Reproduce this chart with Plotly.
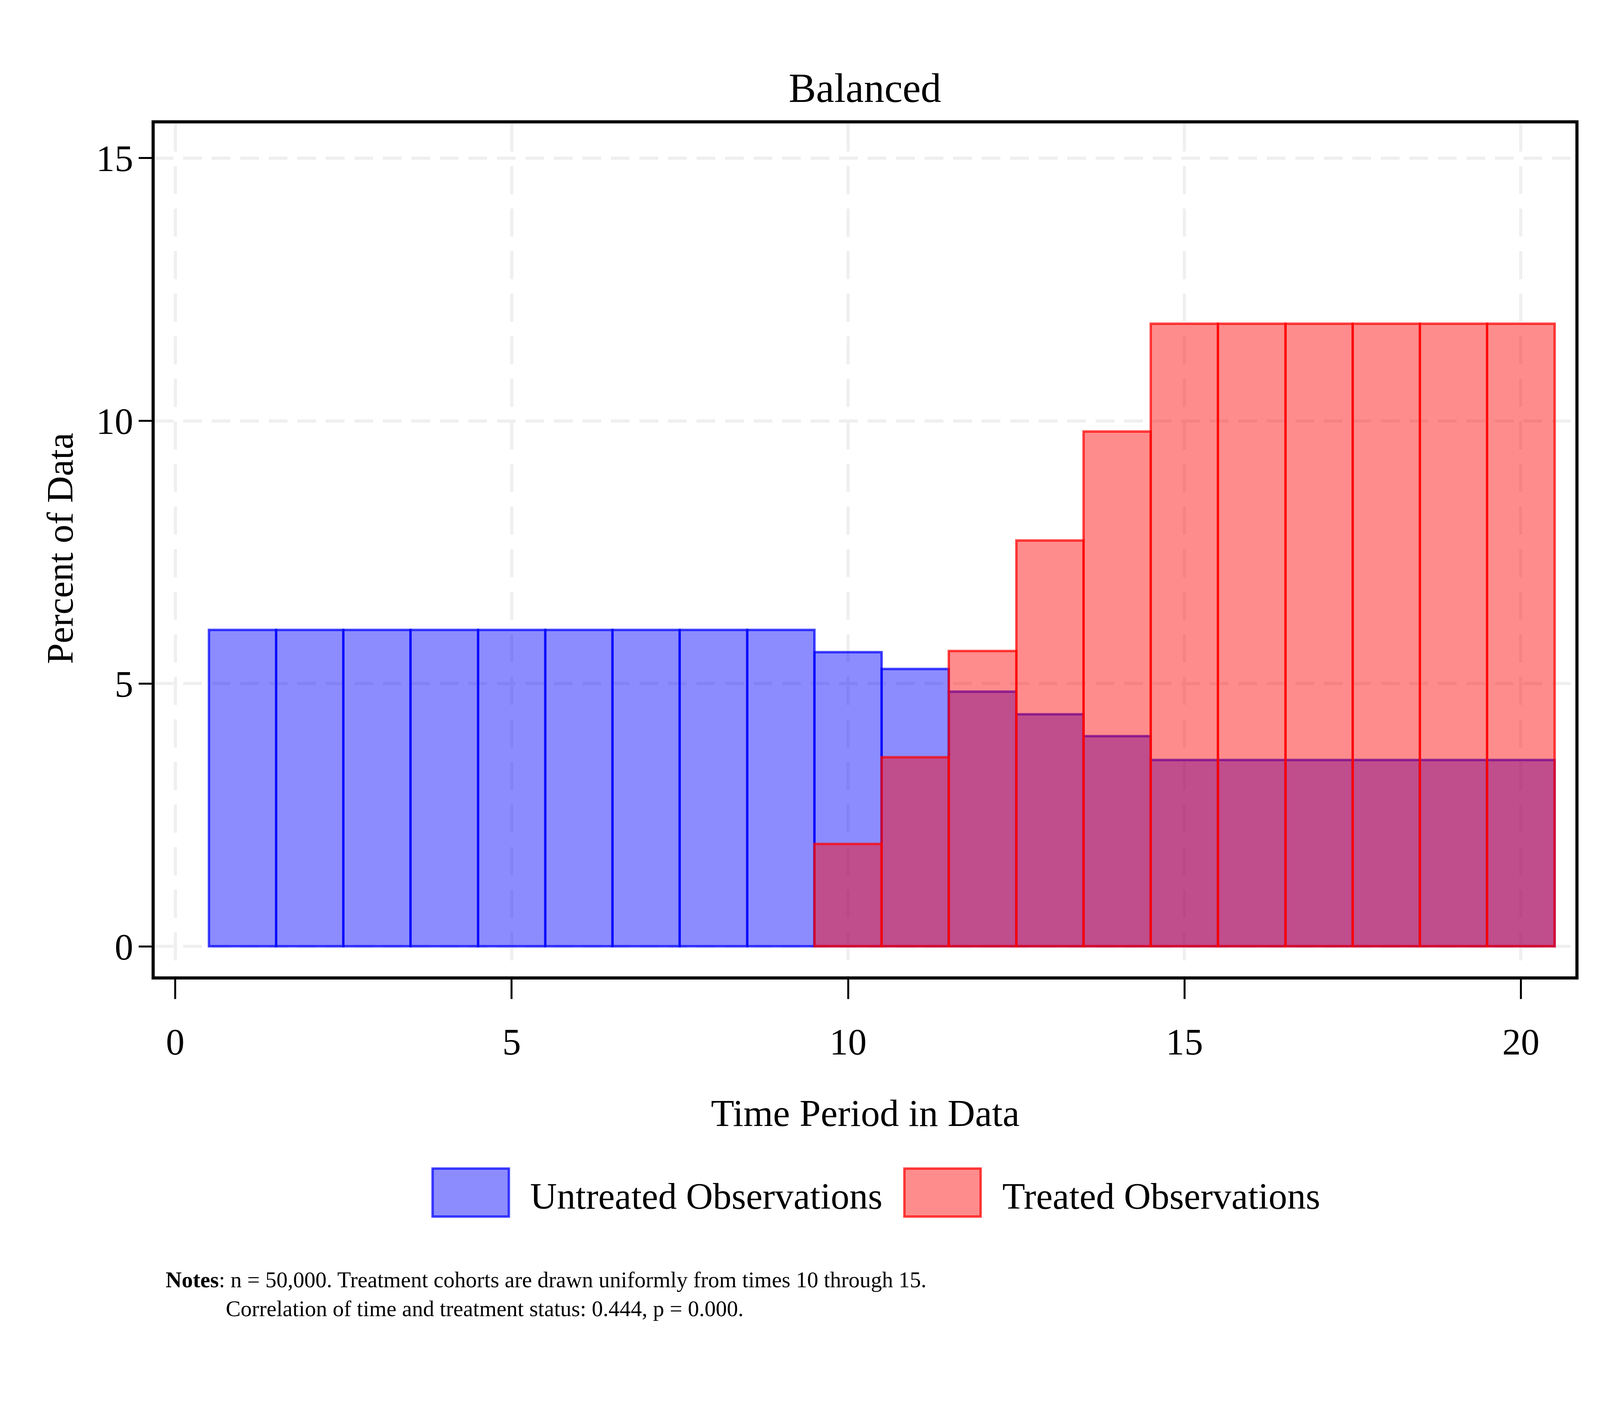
import plotly.graph_objects as go

# time periods and percent of data
periods = list(range(1, 21))
untreated = [6.02, 6.02, 6.02, 6.02, 6.02, 6.02, 6.02, 6.02, 6.02,
             5.6, 5.28, 4.85, 4.42, 4.0, 3.55, 3.55, 3.55, 3.55, 3.55, 3.55]
treated = [None, None, None, None, None, None, None, None, None,
           1.95, 3.6, 5.62, 7.72, 9.8, 11.85, 11.85, 11.85, 11.85, 11.85, 11.85]
series_names = ["Untreated Observations", "Treated Observations"]
xticks = [0, 5, 10, 15, 20]
yticks = [0, 5, 10, 15]
title_text = "Balanced"
xtitle = "Time Period in Data"
ytitle = "Percent of Data"
note1 = "<b>Notes</b>: n = 50,000. Treatment cohorts are drawn uniformly from times 10 through 15."
note2 = "Correlation of time and treatment status: 0.444, p = 0.000."

# layout measured on the 6000x3600 reference; the browser window here is
# 4096x3600, so horizontal sizes get KX and vertical sizes KY
W, H = 6000, 3600
WIN_W, WIN_H = 4096, 3600
KX, KY = WIN_W / W, WIN_H / H
KF = 0.75                            # font scale
L, R, T, B = 569, 5896, 308, 2492    # plot area, in reference pixels
FONT = "Liberation Serif"

blue_fill = "rgba(0,0,255,0.45)"
blue_line = "rgba(0,0,255,0.72)"
red_fill = "rgba(255,0,0,0.45)"
red_line = "rgba(255,0,0,0.72)"


def px_x(x):
    return (x - L) / (R - L)


def px_y(y):
    return (B - y) / (B - T)


fig = go.Figure()
fig.add_trace(go.Bar(x=periods, y=untreated, width=1, name=series_names[0],
                     marker=dict(color=blue_fill, line=dict(color=blue_line, width=9 * KX))))
fig.add_trace(go.Bar(x=periods, y=treated, width=1, name=series_names[1],
                     marker=dict(color=red_fill, line=dict(color=red_line, width=9 * KX))))

axis_common = dict(
    showline=True, linecolor="black", linewidth=11 * KX, mirror=True,
    ticks="outside", tickwidth=7 * KX, tickcolor="black",
    showgrid=True, gridcolor="#efefef", gridwidth=11 * KX,
    zeroline=False, tickfont=dict(family=FONT, size=127 * KF, color="black"),
)

fig.update_layout(
    width=WIN_W, height=WIN_H,
    margin=dict(l=round(L * KX), r=round((W - R) * KX), t=round(T * KY), b=round((H - B) * KY), pad=0),
    paper_bgcolor="white", plot_bgcolor="white",
    barmode="overlay", bargap=0, showlegend=False,
    font=dict(family=FONT, color="black"),
    xaxis=dict(range=[-0.305, 20.81], tickvals=xticks, ticklen=round(50 * KY),
               ticklabelstandoff=round(28 * KY),
               griddash="%dpx,%dpx" % (round(72 * KY), round(37 * KY)), **axis_common),
    yaxis=dict(range=[-0.57, 15.66], tickvals=yticks, ticklen=round(48 * KX),
               ticklabelstandoff=-5,
               griddash="%dpx,%dpx" % (round(70 * KX), round(36 * KX)), **axis_common),
)

# titles
fig.add_annotation(text=title_text, xref="paper", yref="paper", x=0.5, y=px_y(218),
                   xanchor="center", yanchor="middle", showarrow=False,
                   font=dict(family=FONT, size=140 * KF))
fig.add_annotation(text=xtitle, xref="paper", yref="paper", x=0.5, y=px_y(2842),
                   xanchor="center", yanchor="middle", showarrow=False,
                   font=dict(family=FONT, size=130 * KF))
fig.add_annotation(text=ytitle, xref="paper", yref="paper", x=px_x(215), y=px_y(1396),
                   xanchor="center", yanchor="middle", textangle=-90, showarrow=False,
                   font=dict(family=FONT, size=127 * KF))

# legend drawn by hand so the keys keep the reference size
legend_items = [
    (series_names[0], blue_fill, blue_line, 1611, 1897, 1974),
    (series_names[1], red_fill, red_line, 3380, 3666, 3745),
]
for name, fill, line, x0, x1, tx in legend_items:
    fig.add_shape(type="rect", xref="paper", yref="paper",
                  x0=px_x(x0), x1=px_x(x1), y0=px_y(2984), y1=px_y(3107),
                  fillcolor=fill, line=dict(color=line, width=9 * KX))
    fig.add_annotation(text=name, xref="paper", yref="paper", x=px_x(tx), y=px_y(3055),
                       xanchor="left", yanchor="middle", showarrow=False,
                       font=dict(family=FONT, size=127 * KF))

# notes
fig.add_annotation(text=note1, xref="paper", yref="paper", x=px_x(607), y=px_y(3268),
                   xanchor="left", yanchor="middle", showarrow=False,
                   font=dict(family=FONT, size=76 * KF))
fig.add_annotation(text=note2, xref="paper", yref="paper", x=px_x(833), y=px_y(3342),
                   xanchor="left", yanchor="middle", showarrow=False,
                   font=dict(family=FONT, size=76 * KF))

fig.write_html("out.html")
